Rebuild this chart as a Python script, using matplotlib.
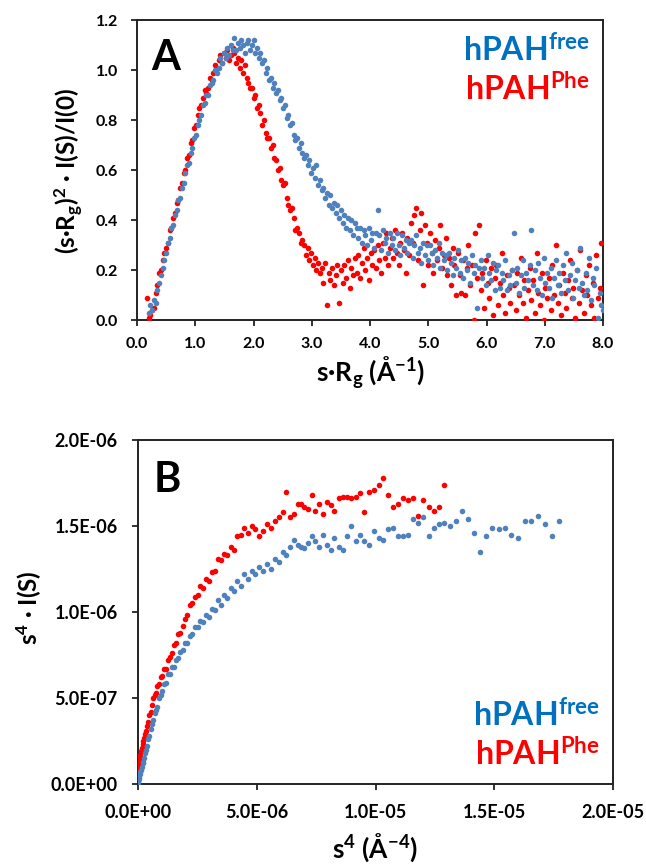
import numpy as np
import matplotlib
matplotlib.use("Agg")
import matplotlib.pyplot as plt
from matplotlib.ticker import FuncFormatter

# ---------------- Panel A data (Kratky) ----------------
a_free_x0, a_free_dx = 0.20, 0.03
a_free_y = [
    0.03,0.06,0.04,0.08,0.07,0.12,0.15,0.18,0.21,0.24,
    0.27,0.31,0.33,0.37,0.38,0.42,0.44,0.48,0.49,0.53,
    0.55,0.59,0.62,0.63,0.67,0.69,0.73,0.74,0.78,0.80,
    0.82,0.86,0.87,0.90,0.90,0.94,0.95,0.96,1.00,0.99,
    1.01,1.05,1.03,1.07,1.05,1.09,1.06,1.10,1.08,1.13,
    1.08,1.11,1.09,1.12,1.10,1.07,1.11,1.12,1.08,1.10,
    1.12,1.07,1.09,1.05,1.07,1.03,1.04,0.99,1.01,0.96,
    0.97,0.93,0.95,0.91,0.92,0.88,0.89,0.85,0.86,0.81,
    0.82,0.78,0.79,0.74,0.72,0.73,0.69,0.71,0.67,0.65,
    0.66,0.62,0.64,0.59,0.61,0.57,0.62,0.54,0.56,0.52,
    0.53,0.49,0.51,0.46,0.50,0.45,0.47,0.43,0.46,0.41,
    0.44,0.39,0.42,0.37,0.41,0.36,0.40,0.34,0.39,0.37,
    0.33,0.37,0.31,0.36,0.34,0.30,0.37,0.32,0.35,0.29,
    0.35,0.44,0.34,0.28,0.36,0.31,0.33,0.27,0.35,0.30,
    0.33,0.28,0.35,0.30,0.26,0.34,0.29,0.32,0.27,0.31,
    0.32,0.25,0.30,0.34,0.27,0.29,0.23,0.31,0.26,0.30,
    0.24,0.30,0.27,0.22,0.28,0.25,0.31,0.21,0.27,0.24,
    0.26,0.20,0.27,0.23,0.18,0.25,0.21,0.28,0.19,0.24,
    0.17,0.25,0.20,0.23,0.15,0.26,0.19,0.22,0.05,0.21,
    0.24,0.17,0.21,0.14,0.26,0.19,0.16,0.23,0.12,0.20,
    0.22,0.13,0.19,0.16,0.24,0.12,0.18,0.14,0.20,0.35,
    0.15,0.21,0.11,0.18,0.24,0.13,0.19,0.16,0.22,0.36,
    0.14,0.20,0.12,0.23,0.17,0.10,0.25,0.15,0.19,0.13,
    0.21,0.09,0.17,0.24,0.14,0.19,0.11,0.22,0.16,0.27,
    0.12,0.18,0.23,0.09,0.16,0.20,0.13,0.29,0.15,0.10,
    0.19,0.12,0.25,0.08,0.17,0.14,0.21,0.01,0.11,0.06,
    0.04,
]
a_phe_x0, a_phe_dx = 0.17, 0.03
a_phe_y = [
    0.09,0.01,0.02,0.04,0.05,0.11,0.14,0.19,0.20,0.24,
    0.27,0.29,0.31,0.36,0.37,0.41,0.43,0.47,0.48,0.53,
    0.55,0.59,0.60,0.65,0.66,0.71,0.72,0.77,0.78,0.82,
    0.85,0.86,0.89,0.92,0.91,0.93,0.97,0.96,0.99,1.02,
    1.01,1.04,1.06,1.03,1.07,1.05,1.08,1.04,1.06,1.09,
    1.07,1.03,1.05,1.01,1.04,0.99,1.02,0.97,0.95,0.93,
    0.93,0.89,0.90,0.85,0.86,0.83,0.78,0.80,0.75,0.73,
    0.73,0.69,0.70,0.65,0.64,0.60,0.61,0.56,0.54,0.55,
    0.49,0.46,0.44,0.45,0.41,0.36,0.37,0.35,0.31,0.32,
    0.30,0.26,0.29,0.24,0.27,0.22,0.25,0.20,0.23,0.19,
    0.21,0.15,0.23,0.06,0.19,0.16,0.21,0.14,0.18,0.22,
    0.07,0.20,0.15,0.22,0.17,0.24,0.13,0.21,0.18,0.25,
    0.19,0.26,0.17,0.23,0.29,0.20,0.25,0.16,0.27,0.22,
    0.28,0.21,0.30,0.24,0.19,0.31,0.25,0.35,0.22,0.29,
    0.33,0.25,0.36,0.27,0.22,0.31,0.35,0.28,0.19,0.33,
    0.26,0.39,0.31,0.42,0.45,0.24,0.36,0.43,0.14,0.38,
    0.31,0.22,0.35,0.27,0.19,0.32,0.24,0.29,0.38,0.21,
    0.26,0.33,0.18,0.25,0.14,0.29,0.22,0.10,0.27,0.18,
    0.11,0.24,0.10,0.21,0.30,0.14,0.22,0.00,0.35,0.17,
    0.38,0.12,0.19,0.05,0.24,0.15,0.09,0.21,0.02,0.17,
    0.22,0.06,0.15,0.27,0.10,0.03,0.18,0.13,0.07,0.20,
    0.14,0.04,0.19,0.10,0.25,0.07,0.16,0.01,0.12,0.21,
    0.08,0.16,0.03,0.27,0.11,0.06,0.19,0.00,0.13,0.09,
    0.17,0.04,0.22,0.10,0.30,0.07,0.14,0.02,0.19,0.11,
    0.05,0.16,0.24,0.09,0.13,0.01,0.20,0.07,0.28,0.12,
    0.03,0.18,0.10,0.22,0.06,0.15,0.01,0.26,0.09,0.13,
    0.31,
]

# ---------------- Panel B data (Porod), units of 1e-6 ----------------
b_x = [
    0.00,0.01,0.02,0.04,0.06,0.08,0.10,0.13,0.16,0.19,
    0.22,0.26,0.30,0.34,0.38,0.43,0.48,0.53,0.58,0.64,
    0.70,0.76,0.82,0.89,0.96,1.03,1.10,1.18,1.26,1.34,
    1.42,1.51,1.60,1.69,1.78,1.88,1.98,2.08,2.18,2.29,
    2.40,2.51,2.62,2.74,2.86,2.98,3.10,3.23,3.36,3.49,
    3.62,3.76,3.90,4.04,4.18,4.33,4.48,4.63,4.78,4.94,
    5.10,5.26,5.42,5.59,5.76,5.93,6.10,6.25,6.40,6.55,6.72,
    6.88,7.00,7.15,7.32,7.46,7.62,7.79,7.97,8.12,8.27,
    8.45,8.64,8.79,8.98,9.16,9.34,9.53,9.73,9.93,10.13,
    10.31,10.52,10.73,10.93,11.14,11.35,11.56,11.80,12.02,12.24,
    12.45,12.69,12.90,13.15,13.40,13.64,13.90,14.15,14.41,14.67,
    14.92,15.20,15.46,15.71,16.00,16.28,16.55,16.85,17.14,17.44,
    17.73,
]
b_free_y = [
    0.00,0.01,0.02,0.03,0.04,0.06,0.07,0.08,0.10,0.12,
    0.13,0.15,0.18,0.20,0.22,0.26,0.28,0.32,0.35,0.37,
    0.41,0.43,0.45,0.50,0.52,0.54,0.58,0.59,0.64,0.64,
    0.68,0.68,0.72,0.73,0.77,0.78,0.82,0.82,0.86,0.87,
    0.91,0.91,0.95,0.94,0.98,0.97,1.02,1.01,1.07,1.04,
    1.10,1.08,1.14,1.12,1.18,1.15,1.22,1.19,1.24,1.22,
    1.26,1.24,1.28,1.25,1.31,1.29,1.35,1.33,1.38,1.42,1.39,
    1.38,1.37,1.40,1.44,1.41,1.38,1.45,1.39,1.36,1.43,
    1.38,1.36,1.44,1.50,1.41,1.45,1.41,1.39,1.47,1.43,
    1.42,1.48,1.49,1.44,1.44,1.45,1.54,1.52,1.55,1.44,
    1.49,1.51,1.52,1.50,1.53,1.59,1.54,1.46,1.35,1.44,
    1.49,1.48,1.49,1.45,1.43,1.53,1.53,1.56,1.51,1.44,
    1.53,
]
b_phe_y = [
    0.06,0.08,0.10,0.12,0.14,0.15,0.17,0.19,0.21,0.23,
    0.25,0.27,0.29,0.31,0.34,0.36,0.40,0.42,0.46,0.50,
    0.52,0.53,0.57,0.58,0.62,0.63,0.67,0.67,0.72,0.74,
    0.76,0.81,0.82,0.87,0.88,0.92,0.96,0.98,1.04,1.05,
    1.09,1.10,1.15,1.14,1.19,1.18,1.23,1.24,1.31,1.30,
    1.34,1.33,1.38,1.36,1.44,1.45,1.49,1.46,1.50,1.48,
    1.44,1.47,1.51,1.49,1.53,1.55,1.58,1.70,1.55,1.57,1.63,
    1.63,1.61,1.60,1.68,1.59,1.63,1.57,1.64,1.62,1.59,
    1.66,1.67,1.67,1.66,1.67,1.69,1.58,1.70,1.71,1.74,
    1.78,1.68,1.61,1.63,1.66,1.65,1.66,1.56,1.65,1.61,
    1.59,1.61,1.74,
]

a_xticks = [0, 1, 2, 3, 4, 5, 6, 7, 8]
a_yticks = [0.0, 0.2, 0.4, 0.6, 0.8, 1.0, 1.2]
b_xticks = [0, 5e-6, 1e-5, 1.5e-5, 2e-5]
b_yticks = [0, 5e-7, 1e-6, 1.5e-6, 2e-6]

BLUE = "#4F81BD"
RED = "#FF0000"
LEG_BLUE = "#0070C0"
FONT = "Lato"

plt.rcParams["font.family"] = [FONT, "DejaVu Sans"]
plt.rcParams["font.weight"] = "bold"
plt.rcParams["mathtext.fontset"] = "custom"
plt.rcParams["mathtext.rm"] = FONT
plt.rcParams["mathtext.bf"] = FONT + ":bold"
plt.rcParams["mathtext.it"] = FONT + ":bold"
plt.rcParams["mathtext.default"] = "bf"

W, H = 646, 866
fig = plt.figure(figsize=(W / 100, H / 100), dpi=100)


def fx(px):
    return px / W


def fy(py):
    return 1 - py / H


def style_axes(ax, size, xpad, ypad):
    for sp in ax.spines.values():
        sp.set_linewidth(1.4)
        sp.set_color("#222222")
    ax.tick_params(direction="out", length=4.5, width=1.3, color="#222222",
                   labelsize=size)
    ax.tick_params(axis="x", pad=xpad)
    ax.tick_params(axis="y", pad=ypad)
    for lab in ax.get_xticklabels() + ax.get_yticklabels():
        lab.set_fontweight("bold")


MS = 16

# ---------- Panel A ----------
axA = fig.add_axes([fx(137), fy(320), (603 - 137) / W, (320 - 20) / H])
xa_free = np.round(a_free_x0 + a_free_dx * np.arange(len(a_free_y)), 3)
xa_phe = np.round(a_phe_x0 + a_phe_dx * np.arange(len(a_phe_y)), 3)
axA.scatter(xa_phe, a_phe_y, s=MS, color=RED, linewidths=0, zorder=3)
axA.scatter(xa_free, a_free_y, s=MS, color=BLUE, linewidths=0, zorder=3)
axA.set_xlim(0, 8)
axA.set_ylim(0, 1.2)
axA.set_xticks(a_xticks)
axA.set_yticks(a_yticks)
axA.xaxis.set_major_formatter(FuncFormatter(lambda v, p: f"{v:.1f}"))
axA.yaxis.set_major_formatter(FuncFormatter(lambda v, p: f"{v:.1f}"))
style_axes(axA, 11.5, 8, 9)

# ---------- Panel B ----------
axB = fig.add_axes([fx(138), fy(784), (613 - 138) / W, (784 - 440) / H])
bx = np.array(b_x) * 1e-6
axB.scatter(bx[:len(b_phe_y)], np.array(b_phe_y) * 1e-6, s=MS, color=RED,
            linewidths=0, zorder=3)
axB.scatter(bx[:len(b_free_y)], np.array(b_free_y) * 1e-6, s=MS, color=BLUE,
            linewidths=0, zorder=3)
axB.set_xlim(0, 2e-5)
axB.set_ylim(0, 2e-6)
axB.set_xticks(b_xticks)
axB.set_yticks(b_yticks)
axB.xaxis.set_major_formatter(FuncFormatter(lambda v, p: f"{v:.1E}"))
axB.yaxis.set_major_formatter(FuncFormatter(lambda v, p: f"{v:.1E}"))
style_axes(axB, 13, 10, 10)

# ---------- Labels ----------
fig.text(fx(69), fy(171), r"(s·R$_\mathbf{g}$)$^\mathbf{2}$ · I(S)/I(0)",
         rotation=90, ha="center", va="center", fontsize=17.5, fontweight="bold")
fig.text(fx(371), fy(373), r"s·R$_\mathbf{g}$ (Å$^\mathbf{-1}$)",
         ha="center", va="center", fontsize=19, fontweight="bold")
fig.text(fx(29), fy(608), r"s$^\mathbf{4}$ · I(S)",
         rotation=90, ha="center", va="center", fontsize=17.5, fontweight="bold")
fig.text(fx(375), fy(848), r"s$^\mathbf{4}$ (Å$^\mathbf{-4}$)",
         ha="center", va="center", fontsize=19, fontweight="bold")

fig.text(fx(166), fy(58), "A", ha="center", va="center", fontsize=30,
         fontweight="bold")
fig.text(fx(167), fy(480), "B", ha="center", va="center", fontsize=30,
         fontweight="bold")

for (xr, y1, y2) in [(590, 62, 101), (600, 727, 766)]:
    fig.text(fx(xr), fy(y1), r"hPAH$^\mathbf{free}$", ha="right",
             va="baseline", fontsize=23, fontweight="bold", color=LEG_BLUE)
    fig.text(fx(xr), fy(y2), r"hPAH$^\mathbf{Phe}$", ha="right",
             va="baseline", fontsize=23, fontweight="bold", color=RED)

fig.savefig("out.png", dpi=100)
